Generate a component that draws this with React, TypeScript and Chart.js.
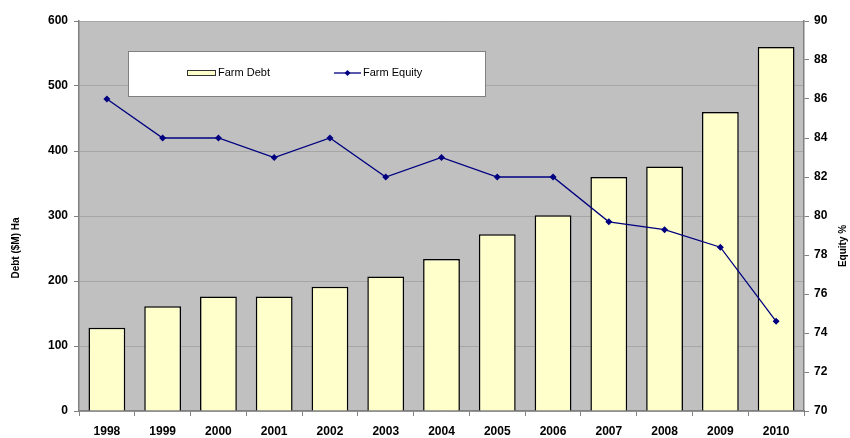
import React, { useEffect, useRef } from "react";
import { Chart, registerables } from "chart.js";

Chart.register(...registerables);

const years = ["1998", "1999", "2000", "2001", "2002", "2003", "2004", "2005", "2006", "2007", "2008", "2009", "2010"];
const farmDebt = [128, 161, 176, 176, 191, 207, 234, 272, 301, 360, 376, 460, 560];
const farmEquity = [86, 84, 84, 83, 84, 82, 83, 82, 82, 79.7, 79.3, 78.4, 74.6];
const debtTitle = "Debt ($M) Ha";
const equityTitle = "Equity %";

const FONT = "'Liberation Sans', Arial, sans-serif";

const decorPlugin = {
  id: "decor",
  beforeDraw(chart: any) {
    const { ctx, chartArea } = chart;
    ctx.save();
    ctx.fillStyle = "#c0c0c0";
    ctx.fillRect(chartArea.left, chartArea.top, chartArea.right - chartArea.left, chartArea.bottom - chartArea.top);
    ctx.restore();
  },
  afterDraw(chart: any) {
    const { ctx, chartArea } = chart;
    ctx.save();
    ctx.fillStyle = "#000";
    ctx.font = `bold 10px ${FONT}`;
    ctx.textAlign = "center";
    ctx.textBaseline = "middle";
    const midY = (chartArea.top + chartArea.bottom) / 2 + 32;
    ctx.save();
    ctx.translate(16, midY);
    ctx.rotate(-Math.PI / 2);
    ctx.fillText(debtTitle, 0, 0);
    ctx.restore();
    ctx.save();
    ctx.translate(843, (chartArea.top + chartArea.bottom) / 2 + 30);
    ctx.rotate(-Math.PI / 2);
    ctx.fillText(equityTitle, 0, 0);
    ctx.restore();

    // legend box
    const lx = 128, ly = 51, lw = 357, lh = 45;
    ctx.fillStyle = "#ffffff";
    ctx.fillRect(lx, ly, lw, lh);
    ctx.strokeStyle = "#808080";
    ctx.lineWidth = 1;
    ctx.strokeRect(lx + 0.5, ly + 0.5, lw, lh);
    const cy = ly + 22;
    ctx.fillStyle = "#ffffcc";
    ctx.fillRect(187, cy - 3, 29, 6);
    ctx.strokeStyle = "#333";
    ctx.strokeRect(187.5, cy - 2.5, 28, 5);
    ctx.fillStyle = "#000";
    ctx.font = `11px ${FONT}`;
    ctx.textAlign = "left";
    ctx.fillText("Farm Debt", 218, cy);
    ctx.strokeStyle = "#000080";
    ctx.lineWidth = 1.3;
    ctx.beginPath();
    ctx.moveTo(334, cy);
    ctx.lineTo(361, cy);
    ctx.stroke();
    ctx.fillStyle = "#000080";
    ctx.beginPath();
    ctx.moveTo(347.5, cy - 3);
    ctx.lineTo(350.5, cy);
    ctx.lineTo(347.5, cy + 3);
    ctx.lineTo(344.5, cy);
    ctx.closePath();
    ctx.fill();
    ctx.fillStyle = "#000";
    ctx.fillText("Farm Equity", 363, cy);
    ctx.restore();
  },
};

export default function App() {
  const ref = useRef<HTMLCanvasElement | null>(null);
  useEffect(() => {
    if (!ref.current) return;
    const chart = new Chart(ref.current, {
      type: "bar",
      data: {
        labels: years,
        datasets: [
          {
            type: "line",
            label: "Farm Equity",
            data: farmEquity,
            yAxisID: "y1",
            borderColor: "#000080",
            backgroundColor: "#000080",
            borderWidth: 1.3,
            pointStyle: "rectRot",
            pointRadius: 3.5,
            pointBackgroundColor: "#000080",
            pointBorderWidth: 0,
            tension: 0,
            order: 0,
          } as any,
          {
            type: "bar",
            label: "Farm Debt",
            data: farmDebt,
            yAxisID: "y",
            backgroundColor: "#ffffcc",
            borderColor: "#000000",
            borderWidth: 1.5,
            barPercentage: 0.66,
            categoryPercentage: 1,
            order: 1,
          } as any,
        ],
      },
      options: {
        animation: false,
        responsive: false,
        maintainAspectRatio: false,
        layout: { padding: { top: 21, left: 0, right: 0, bottom: 0 } },
        plugins: { legend: { display: false }, tooltip: { enabled: false } },
        scales: {
          x: {
            offset: true,
            grid: { display: true, drawOnChartArea: false, offset: true, tickLength: 5, color: "#808080", lineWidth: 1 },
            border: { color: "#808080", width: 1.5 },
            ticks: { color: "#000", font: { family: FONT, size: 12, weight: "bold" }, padding: 8, maxRotation: 0 },
            afterFit(s: any) { s.height = 27; },
          },
          y: {
            position: "left",
            min: 0,
            max: 600,
            ticks: { stepSize: 100, color: "#000", font: { family: FONT, size: 12, weight: "bold" }, padding: 6 },
            grid: { color: "#a6a6a6", lineWidth: 1, tickLength: 5, tickColor: "#808080" },
            border: { color: "#808080", width: 1.5 },
            afterFit(s: any) { s.width = 79; },
          },
          y1: {
            position: "right",
            min: 70,
            max: 90,
            ticks: { stepSize: 2, color: "#000", font: { family: FONT, size: 12, weight: "bold" }, padding: 5 },
            grid: { drawOnChartArea: false, tickLength: 5, color: "#808080" },
            border: { color: "#808080", width: 1.5 },
            afterFit(s: any) { s.width = 46; },
          },
        },
      },
      plugins: [decorPlugin],
    });
    return () => chart.destroy();
  }, []);
  return (
    <div style={{ position: "absolute", left: 0, top: 0, width: 850, height: 438, background: "#fff" }}>
      <canvas ref={ref} width={850} height={438} style={{ width: 850, height: 438, display: "block" }} />
    </div>
  );
}
